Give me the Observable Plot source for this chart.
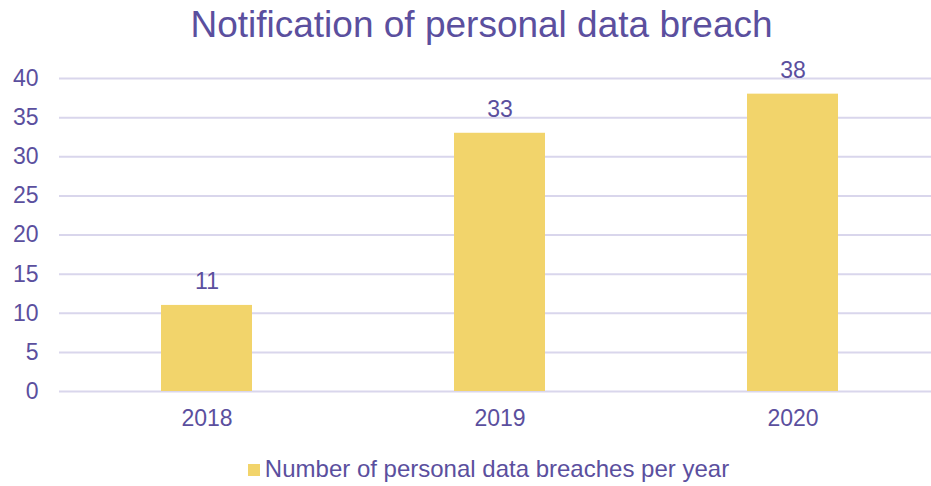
<!DOCTYPE html>
<html><head><meta charset="utf-8">
<script src="https://cdn.jsdelivr.net/npm/d3@7"></script>
<script src="https://cdn.jsdelivr.net/npm/@observablehq/plot@0.6"></script>
<style>
body{margin:0;background:#fff;font-family:"Liberation Sans",Arial,sans-serif;color:#5b4f9e;}
#title{height:55px;line-height:50px;text-align:center;font-size:37px;padding-left:32px}
#legend{text-align:center;font-size:24px;margin-top:10px;padding-left:46px}
#legend span.sw{display:inline-block;width:12px;height:12px;background:#f2d46b;margin-right:5px;vertical-align:1px}
</style></head>
<body>
<div id="title">Notification of personal data breach</div>
<div id="chart"></div>
<div id="legend"><span class="sw"></span>Number of personal data breaches per year</div>
<script>
const years = ["2018", "2019", "2020"];
const breaches = [11, 33, 38];
const yTicks = [0, 5, 10, 15, 20, 25, 30, 35, 40];
const data = years.map((y, i) => ({year: y, value: breaches[i]}));
const purple = "#5b4f9e";
const chart = Plot.plot({
  width: 931, height: 390,
  marginLeft: 59, marginRight: 0, marginTop: 23, marginBottom: 54,
  style: {fontFamily: "Liberation Sans, Arial, sans-serif", fontSize: "23px", color: purple, background: "#fff"},
  x: {domain: years, range: [59, 939], paddingInner: 0.69, paddingOuter: 0.345, label: null, tickSize: 0},
  y: {domain: [0, 40], ticks: yTicks, label: null, tickSize: 0},
  marks: [
    Plot.ruleY(yTicks, {stroke: "#d9d6ec", strokeWidth: 2}),
    Plot.barY(data, {x: "year", y: "value", fill: "#f2d46b"}),
    Plot.text(data, {x: "year", y: "value", text: d => String(d.value), dy: -24, fill: purple, fontSize: 23}),
    Plot.axisX({tickSize: 0, tickPadding: 18, fontSize: 23, fill: purple}),
    Plot.axisY({ticks: yTicks, tickSize: 0, tickPadding: 21, fontSize: 23, fill: purple})
  ]
});
document.getElementById("chart").appendChild(chart);
</script>
</body></html>
